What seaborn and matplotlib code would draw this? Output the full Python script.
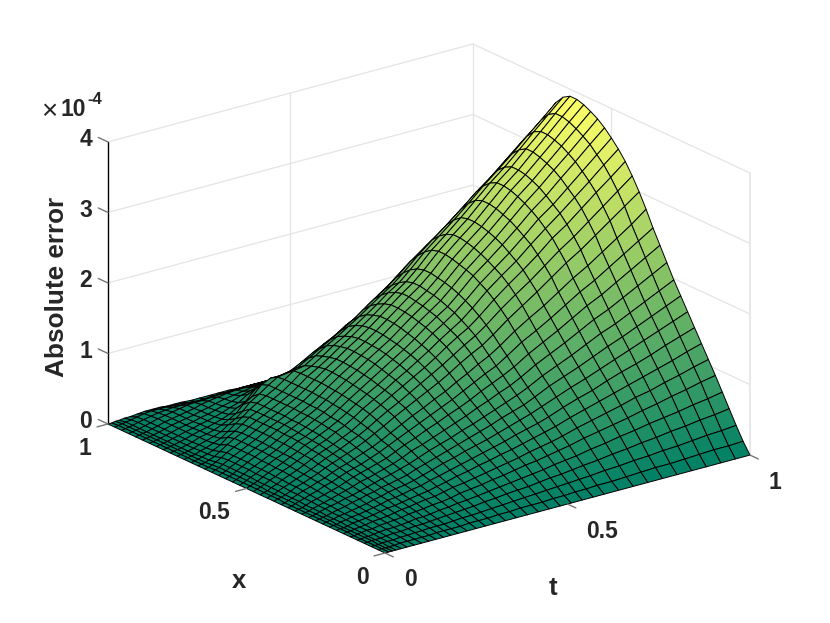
import numpy as np
import matplotlib
matplotlib.use("Agg")
import matplotlib.pyplot as plt
import seaborn as sns
from mpl_toolkits.mplot3d import proj3d

# Absolute error, in units of 1e-4 / 100, one list per t value
t_values = [0, .01, .02, .03, .045, .06, .08, .1, .12, .14, .16, .18, .2, .225, .25, .275, .3, .33, .36,
            .39, .42, .45, .48, .51, .54, .57, .6, .64, .68, .72, .76, .8, .84, .88, .92, .96, 1]
x_values = [j / 40 for j in range(41)]

err_t000 = [0] * 41
err_t001 = [0,0,0,0,0,0,1,1,1,1, 1,1,1,1,1,1,2,2,2,2, 2,2,2,2,2,2,1,1,1,1, 1,1,1,1,1,1,1,1,1,1,0]
err_t002 = [0,0,0,1,1,1,1,1,1,2, 2,2,2,2,3,3,3,3,3,4, 4,4,4,4,4,4,3,2,2,2, 2,2,2,2,2,2,2,2,2,2,1]
err_t003 = [0,0,1,1,1,2,2,2,3,3, 3,4,4,4,5,5,5,6,6,6, 6,7,7,7,7,7,6,4,4,3, 3,3,3,3,3,3,3,3,3,3,1]
err_t045 = [0,0,1,1,2,3,3,4,4,5, 5,6,6,7,7,8,8,9,9,10, 10,10,11,11,11,11,10,7,6,6, 5,5,5,5,5,5,5,5,5,4,2]
err_t006 = [0,1,1,2,3,3,4,5,6,6, 7,8,8,9,10,11,12,12,13,13, 14,14,14,15,15,15,15,12,9,8, 8,7,7,7,7,7,7,7,7,6,2]
err_t008 = [0,1,2,3,4,5,6,6,7,8, 9,10,11,12,13,14,15,16,17,18, 18,19,19,20,20,20,20,19,14,12, 11,11,10,10,10,10,10,10,9,8,3]
err_t010 = [0,1,2,3,4,6,7,8,9,10, 12,13,14,15,17,18,19,20,21,22, 23,24,24,25,25,25,25,25,22,16, 14,13,13,12,12,12,12,12,11,9,4]
err_t012 = [0,1,3,4,5,7,8,10,11,12, 14,15,17,18,20,21,23,24,26,27, 28,28,29,29,30,30,30,30,28,23, 18,16,15,15,14,14,14,14,12,9,4]
err_t014 = [0,1,3,5,6,8,10,12,13,15, 17,18,20,22,24,26,28,29,31,32, 33,34,35,35,36,36,36,36,35,31, 25,20,18,17,17,16,16,16,13,9,4]
err_t016 = [0,2,4,5,8,10,12,13,16,17, 19,21,24,26,28,30,32,34,36,37, 39,40,41,41,42,42,42,42,42,38, 31,25,21,20,19,19,18,18,13,8,3]
err_t018 = [0,2,4,6,8,11,13,15,17,20, 22,24,26,29,31,33,36,38,40,42, 43,44,45,46,47,47,47,47,47,46, 39,31,25,23,22,21,21,19,13,8,3]
err_t020 = [0,2,4,7,9,12,15,17,19,22, 24,27,29,32,34,37,40,42,44,46, 48,49,50,51,51,52,52,52,52,52, 49,41,31,27,25,24,23,19,13,7,3]
err_t225 = [0,2,5,8,11,14,17,19,22,24, 27,30,33,36,39,42,45,48,50,53, 54,56,57,58,58,59,59,59,59,59, 57,49,37,31,28,27,25,20,13,5,2]
err_t025 = [0,3,6,9,12,15,18,21,24,27, 30,34,37,40,44,47,51,54,56,59, 61,62,64,65,65,66,66,66,66,66, 66,62,50,39,33,29,27,21,14,5,2]
err_t275 = [0,3,6,10,14,17,21,24,28,31, 35,38,42,46,50,53,58,61,64,67, 69,71,72,74,74,75,75,75,75,75, 74,68,54,43,36,31,28,21,14,6,2]
err_t030 = [0,3,7,11,15,20,24,27,31,35, 39,43,48,52,56,60,65,69,73,76, 78,80,82,83,84,85,85,85,85,84, 76,68,57,47,39,33,28,21,14,7,2]
err_t033 = [0,4,8,13,17,22,26,31,35,40, 44,49,53,58,63,68,74,78,82,85, 88,90,92,94,95,96,96,94,91,87, 80,71,58,50,41,33,27,21,13,7,2]
err_t036 = [0,4,9,14,19,24,29,34,39,44, 49,54,59,65,70,76,82,86,91,94, 97,100,102,104,105,106,106,104,101,97, 89,79,65,54,44,35,28,21,13,8,1]
err_t039 = [0,5,10,16,21,27,32,38,43,49, 54,59,65,71,77,83,90,95,100,104, 107,110,113,115,116,117,117,115,112,107, 98,88,72,58,47,37,29,21,13,8,1]
err_t042 = [0,5,11,17,23,29,35,41,47,53, 59,65,71,78,84,91,98,104,109,113, 117,120,123,125,126,127,127,125,121,116, 107,96,79,64,51,41,30,22,14,8,1]
err_t045b = [0,5,12,18,25,32,38,45,51,57, 64,70,77,84,91,98,106,113,118,123, 127,130,133,135,137,138,138,136,132,126, 116,104,88,72,59,47,37,26,15,10,1]
err_t048 = [0,6,13,20,27,35,41,48,55,62, 69,76,84,91,99,107,115,122,128,133, 137,141,144,147,149,150,150,147,143,136, 126,114,97,81,67,54,42,31,19,12,0]
err_t051 = [0,6,14,22,29,37,45,52,60,67, 75,82,90,99,107,115,125,132,139,144, 149,153,156,159,161,162,162,159,154,147, 137,122,102,87,75,61,47,34,23,12,0]
err_t054 = [0,7,15,23,32,40,48,56,64,72, 80,88,97,106,115,124,134,142,149,154, 159,164,167,170,172,174,174,171,166,158, 148,134,116,99,83,67,53,38,25,12,0]
err_t057 = [0,7,16,25,34,43,51,60,68,77, 85,94,103,113,122,132,142,151,158,164, 170,174,178,181,183,185,185,182,176,168, 158,145,127,109,92,75,59,42,27,12,0]
err_t060 = [0,8,17,27,36,46,55,64,73,83, 92,101,111,121,132,142,153,162,170,177, 183,188,192,195,197,199,199,196,190,181, 170,156,137,119,101,83,65,46,29,13,0]
err_t064 = [0,8,19,29,40,51,61,71,81,91, 102,112,123,134,146,157,169,179,188,196, 202,208,212,215,218,220,220,217,210,200, 188,173,150,134,114,94,72,51,32,15,0]
err_t068 = [0,9,20,32,43,55,66,77,88,99, 110,121,133,145,157,170,183,194,204,212, 218,224,229,233,236,238,238,234,227,217, 203,187,168,147,125,102,78,55,34,16,0]
err_t072 = [0,10,22,34,47,59,71,83,94,106, 118,130,143,156,169,182,197,208,219,227, 234,241,246,250,253,255,255,252,244,233, 218,200,180,158,134,109,84,59,37,17,0]
err_t076 = [0,11,23,37,50,63,76,89,102,114, 127,140,154,168,182,196,212,224,235,245, 252,259,265,269,273,275,275,271,262,250, 235,216,194,170,145,118,90,63,39,18,0]
err_t080 = [0,11,25,39,54,68,82,95,109,122, 136,150,165,180,195,210,227,240,253,262, 271,278,284,289,293,295,295,290,281,268, 252,231,208,182,155,126,97,68,42,20,0]
err_t084 = [0,12,26,42,57,72,86,101,115,130, 144,158,174,190,206,222,240,254,267,278, 286,294,301,306,310,312,312,307,298,284, 266,245,220,193,164,134,102,72,45,21,0]
err_t088 = [0,13,28,44,60,77,92,107,122,138, 153,168,185,202,219,236,255,270,284,295, 304,313,320,325,329,332,332,326,316,302, 283,260,234,205,174,142,109,77,48,22,0]
err_t092 = [0,14,30,47,64,81,97,113,130,146, 162,178,196,214,232,250,270,286,301,312, 322,331,338,344,348,351,351,346,335,320, 300,275,248,217,185,150,115,81,50,23,0]
err_t096 = [0,14,31,49,67,86,103,120,137,154, 171,188,207,226,245,264,285,302,317,330, 340,350,357,363,368,371,371,365,353,337, 316,291,261,229,195,159,122,86,53,25,0]
err_t100 = [0,15,33,52,71,90,108,126,144,162, 180,198,218,238,258,280,300,318,334,347, 358,368,376,382,387,390,390,384,372,355, 333,306,275,241,205,167,128,90,56,26,0]

err_rows = [err_t000, err_t001, err_t002, err_t003, err_t045, err_t006, err_t008, err_t010, err_t012,
            err_t014, err_t016, err_t018, err_t020, err_t225, err_t025, err_t275, err_t030, err_t033,
            err_t036, err_t039, err_t042, err_t045b, err_t048, err_t051, err_t054, err_t057, err_t060,
            err_t064, err_t068, err_t072, err_t076, err_t080, err_t084, err_t088, err_t092, err_t096,
            err_t100]

z_ticks = [0, 1, 2, 3, 4]
xt_ticks = [0, 0.5, 1]
xt_labels = ["0", "0.5", "1"]

sns.set_theme(style="white")
plt.rcParams["font.family"] = ["Liberation Sans", "DejaVu Sans"]
plt.rcParams["font.weight"] = "bold"

ink = "#262626"
wall = "#e4e4e4"

fig = plt.figure(figsize=(8.30, 6.23), dpi=100)
ax = fig.add_axes([0.1, 0.1, 0.8, 0.8 * 830 / 623], projection="3d", computed_zorder=False)
ax.set_proj_type("ortho")
ax.view_init(elev=20.7, azim=-127.2)
ax.set_box_aspect((1, 1, 0.658))
ax.set_xlim(0, 1, view_margin=0)
ax.set_ylim(0, 1, view_margin=0)
ax.set_zlim(0, 4, view_margin=0)
ax.set_axis_off()


def to_px(t, x, z):
    # data point -> pixel of the 830x623 picture, y going down
    xs, ys, _ = proj3d.proj_transform(t, x, z, ax.get_proj())
    px, py = ax.transData.transform((xs, ys))
    return px, 623 - py


# scale and shift the axes so the floor corners land where they are in the picture
fig.canvas.draw()
a = to_px(0, 0, 0)
b = to_px(1, 0, 0)
pos = ax.get_position(original=True)
scale = 365 / (b[0] - a[0])
ax.set_position([pos.x0, pos.y0, pos.width * scale, pos.height * scale])
fig.canvas.draw()
a = to_px(0, 0, 0)
pos = ax.get_position(original=True)
ax.set_position([pos.x0 + (385 - a[0]) / 830, pos.y0 - (553 - a[1]) / 623, pos.width, pos.height])
fig.canvas.draw()

# back walls
for k in z_ticks[1:]:
    ax.plot([0, 1], [1, 1], [k, k], color=wall, lw=0.9, zorder=1)
    ax.plot([1, 1], [0, 1], [k, k], color=wall, lw=0.9, zorder=1)
ax.plot([.5, .5], [1, 1], [0, 4], color=wall, lw=0.9, zorder=1)
ax.plot([1, 1], [.5, .5], [0, 4], color=wall, lw=0.9, zorder=1)
ax.plot([1, 1], [1, 1], [0, 4], color=wall, lw=0.9, zorder=1)
ax.plot([1, 1], [0, 0], [0, 4], color=wall, lw=1.2, zorder=1)

# surface
T, X = np.meshgrid(t_values, x_values, indexing="ij")
Z = np.array(err_rows) / 100
ax.plot_surface(T, X, Z, cmap=sns.color_palette("summer", as_cmap=True), vmin=0, vmax=3.9,
                rstride=1, cstride=1, edgecolor="black", linewidth=0.7, shade=False, zorder=2)

# z axis line and tick stubs
ax.plot([0, 0], [1, 1], [0, 4], color="black", lw=1, zorder=3)
for k in z_ticks:
    ax.plot([0, 0], [1, 1.035], [k, k], color="#777777", lw=1, zorder=3)
for v in xt_ticks:
    ax.plot([0, -0.03], [v, v], [0, 0], color="#777777", lw=1, zorder=3)
    ax.plot([v, v], [0, -0.03], [0, 0], color="#777777", lw=1, zorder=3)


def put(px, py, s, size=16.5, **kw):
    fig.text(px / 830, 1 - py / 623, s, fontsize=size, color=ink, fontweight=kw.pop("weight", "bold"),
             va=kw.pop("va", "center"), ha=kw.pop("ha", "center"), **kw)


for k in z_ticks:
    px, py = to_px(0, 1, k)
    put(px - 16, py - 2, str(k), ha="right")
for v, s in zip(xt_ticks, xt_labels):
    px, py = to_px(0, v, 0)
    put(px - 16.5, py + 24.5, s, ha="right")
    px, py = to_px(v, 0, 0)
    put(px + 19, py + 27, s, ha="left")

put(239, 581, "x", size=18.5)
put(553, 588, "t", size=18.5)
put(57, 287, "Absolute error", size=18.8, rotation=90)
put(49, 112, "×", size=20, weight="normal")
put(73, 110, "10", size=16.5)
put(95, 100, "-4", size=12)

plt.savefig("out.png", dpi=100)
